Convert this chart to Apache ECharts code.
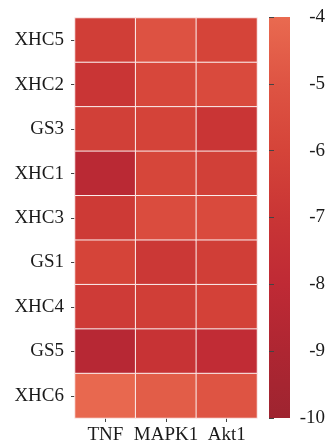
<!DOCTYPE html>
<html>
<head>
<meta charset="utf-8">
<script src="https://cdn.jsdelivr.net/npm/echarts@6/dist/echarts.min.js"></script>
<style>
  html, body { margin: 0; padding: 0; background: #fff; }
  #chart { width: 328px; height: 445px; }
</style>
</head>
<body>
<div id="chart"></div>
<script>
// Docking scores of compounds against three targets
const compounds = ['XHC5', 'XHC2', 'GS3', 'XHC1', 'XHC3', 'GS1', 'XHC4', 'GS5', 'XHC6'];
const targets = ['TNF', 'MAPK1', 'Akt1'];
const tnfScores = [-6.4, -7.0, -6.3, -8.3, -6.7, -6.0, -6.6, -8.5, -4.1];
const mapk1Scores = [-5.1, -5.8, -6.1, -5.9, -5.5, -6.8, -6.4, -7.2, -4.6];
const akt1Scores = [-6.0, -5.6, -7.0, -6.3, -5.6, -6.4, -6.2, -7.8, -5.0];
const scaleMin = -10;
const scaleMax = -4;
const scaleStep = 1;
// colour ramp from the lowest score (dark red) to the highest (coral)
const rampColors = ['#9E2430', '#AE2632', '#BF2A35', '#C93535', '#D54439', '#DE5443', '#E96A50'];

const scoreColumns = [tnfScores, mapk1Scores, akt1Scores];
const cells = [];
scoreColumns.forEach((col, xi) => {
  col.forEach((v, yi) => cells.push([xi, yi, v]));
});

const serif = "'Liberation Serif', 'DejaVu Serif', serif";
const textColor = '#1a1a1a';

const chart = echarts.init(document.getElementById('chart'), null, { renderer: 'canvas' });

// colour bar fill: top of the bar is the maximum score
const barGradient = new echarts.graphic.LinearGradient(0, 0, 0, 1,
  rampColors.slice().reverse().map((c, i) => ({ offset: i / (rampColors.length - 1), color: c })));

chart.setOption({
  animation: false,
  backgroundColor: '#fff',
  grid: [
    { left: 75, right: 71, top: 18, bottom: 27 },
    { left: 269, width: 21, top: 17, bottom: 27, show: true, backgroundColor: barGradient, borderWidth: 0 }
  ],
  xAxis: [
    {
      type: 'category', gridIndex: 0, data: targets,
      axisLine: { show: false },
      axisTick: { show: true, length: 4, alignWithLabel: true, lineStyle: { color: '#444' } },
      axisLabel: { fontFamily: serif, fontSize: 19, color: textColor, margin: 8, interval: 0 },
      splitLine: { show: false }
    },
    { type: 'value', gridIndex: 1, show: false, min: 0, max: 1 }
  ],
  yAxis: [
    {
      type: 'category', gridIndex: 0, data: compounds, inverse: true,
      axisLine: { show: false },
      axisTick: { show: true, length: 4, alignWithLabel: true, lineStyle: { color: '#444' } },
      axisLabel: { fontFamily: serif, fontSize: 19, color: textColor, margin: 11, interval: 0 },
      splitLine: { show: false }
    },
    {
      type: 'value', gridIndex: 1, position: 'right',
      min: scaleMin, max: scaleMax, interval: scaleStep,
      axisLine: { show: false },
      axisTick: { show: true, length: 5, lineStyle: { color: '#444' } },
      axisLabel: { fontFamily: serif, fontSize: 19, color: textColor, margin: 35, align: 'right' },
      splitLine: { show: false }
    }
  ],
  visualMap: {
    show: false, type: 'continuous', min: scaleMin, max: scaleMax,
    seriesIndex: 0, dimension: 2,
    inRange: { color: rampColors }
  },
  series: [{
    type: 'heatmap', xAxisIndex: 0, yAxisIndex: 0,
    data: cells,
    itemStyle: { borderColor: '#fbeeee', borderWidth: 1 },
    label: { show: false },
    emphasis: { disabled: true }
  }]
});
</script>
</body>
</html>
